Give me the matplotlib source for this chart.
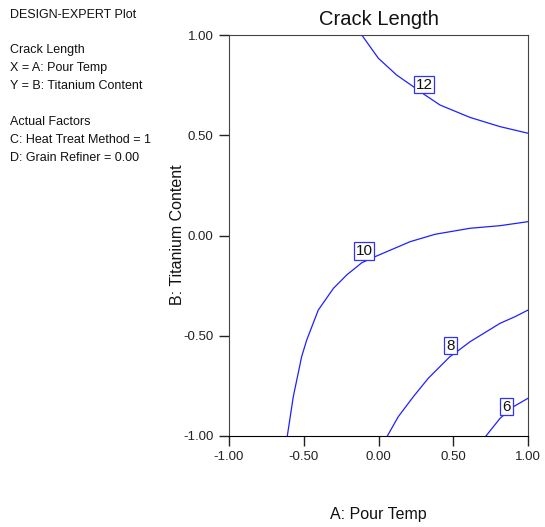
import matplotlib
matplotlib.use("Agg")
import matplotlib.pyplot as plt

plt.rcParams['font.family'] = ['Liberation Sans', 'DejaVu Sans']

# Contour lines (A: Pour Temp, B: Titanium Content)
c12_x = [-0.112, -0.001, 0.122, 0.226, 0.311, 0.411, 0.612, 0.813, 1.0]
c12_y = [1.0, 0.884, 0.800, 0.746, 0.701, 0.651, 0.589, 0.543, 0.510]

c10_x = [1.0, 0.813, 0.612, 0.378, 0.211, -0.012, -0.112, -0.213, -0.302, -0.403, -0.480, -0.514, -0.570, -0.610]
c10_y = [0.069, 0.049, 0.036, 0.006, -0.031, -0.102, -0.136, -0.197, -0.264, -0.372, -0.521, -0.604, -0.804, -1.0]

c8_x = [1.0, 0.913, 0.813, 0.612, 0.523, 0.478, 0.333, 0.233, 0.132, 0.059]
c8_y = [-0.372, -0.405, -0.438, -0.530, -0.580, -0.604, -0.712, -0.804, -0.904, -1.0]

c6_x = [1.0, 0.902, 0.813, 0.719]
c6_y = [-0.812, -0.854, -0.912, -1.0]

contour_levels = ["12", "10", "8", "6"]
label_x = [0.304, -0.097, 0.482, 0.856]
label_y = [0.753, -0.077, -0.549, -0.853]

ticks = [-1.0, -0.5, 0.0, 0.5, 1.0]
tick_labels = ["-1.00", "-0.50", "0.00", "0.50", "1.00"]

info_lines = ["DESIGN-EXPERT Plot", "", "Crack Length", "X = A: Pour Temp",
              "Y = B: Titanium Content", "", "Actual Factors",
              "C: Heat Treat Method = 1", "D: Grain Refiner = 0.00"]

fig = plt.figure(figsize=(5.45, 5.27), dpi=100)
W, H = 545, 527
ax = fig.add_axes([229 / W, 1 - 436 / H, (528 - 229) / W, (436 - 35) / H])

for xs, ys in [(c12_x, c12_y), (c10_x, c10_y), (c8_x, c8_y), (c6_x, c6_y)]:
    ax.plot(xs, ys, color='#2020ff', lw=0.9)

for lab, lx, ly in zip(contour_levels, label_x, label_y):
    ax.text(lx, ly, lab, ha='center', va='center', fontsize=11, color='#111111',
            bbox=dict(boxstyle='square,pad=0.12', fc='white', ec='#3030ff', lw=0.9))

ax.set_xlim(-1, 1)
ax.set_ylim(-1, 1)
ax.set_xticks(ticks)
ax.set_xticklabels(tick_labels)
ax.set_yticks(ticks)
ax.set_yticklabels(tick_labels)
ax.tick_params(direction='out', length=7, width=1, labelsize=9.5, colors='#222222', pad=4)
for side in ['left', 'top', 'right']:
    ax.spines[side].set_color('#444444')
ax.spines['bottom'].set_color('black')

ax.set_title("Crack Length", fontsize=14.5, pad=7, color='#111111')
fig.text(378 / W, 1 - 515 / H, "A: Pour Temp", ha='center', va='center', fontsize=11.5, color='#111111')
fig.text(178 / W, 1 - 235 / H, "B: Titanium Content", ha='center', va='center', rotation=90,
         fontsize=11.5, color='#111111')

y0 = 15
for i, line in enumerate(info_lines):
    if line:
        yy = y0 + (0 if i == 0 else 35 + (i - 2) * 18)
        fig.text(10 / W, 1 - yy / H, line, ha='left', va='center', fontsize=9, color='#111111')

fig.savefig("out.png", dpi=100)
